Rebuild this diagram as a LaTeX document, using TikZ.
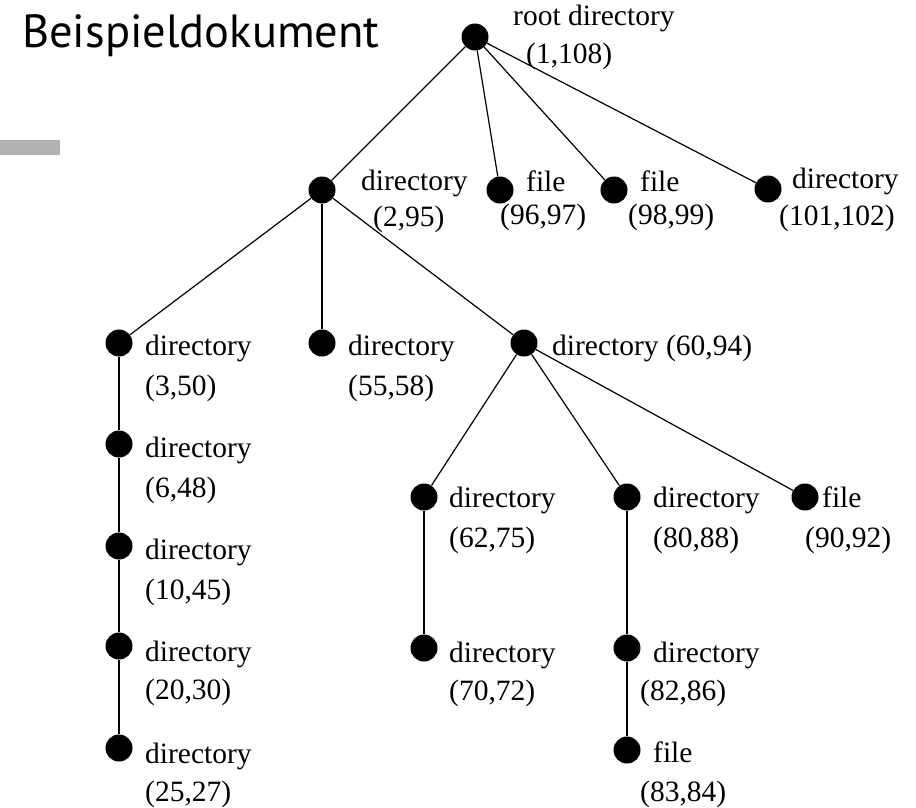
\documentclass[tikz,border=0pt]{standalone}
\usepackage{fontspec}
\setmainfont{Liberation Serif}
\newfontfamily\titlefont{PT Sans}
\newcommand\lblfont{\fontsize{29.5}{35}\selectfont}
\begin{document}
\begin{tikzpicture}[x=1pt,y=-1pt]
\tikzset{
  dot/.style={circle, fill=black, inner sep=0pt, minimum size=27pt},
  lbl/.style={anchor=base west, inner sep=0pt, font=\lblfont},
  edge/.style={line width=1.2pt, draw=black}
}
\useasboundingbox (0,0) rectangle (916,807);

% heading and side marker
\node[anchor=base west, inner sep=0pt, font=\titlefont\fontsize{46.5}{52}\selectfont] (title) at (22,47) {Beispieldokument};
\fill[gray!60] (0,140) rectangle (60,155);

% tree nodes
\node[dot] (root) at (475,37) {};
\node[dot] (d2)   at (322,190) {};
\node[dot] (f96)  at (500,190) {};
\node[dot] (f98)  at (614,190) {};
\node[dot] (d101) at (768,189) {};
\node[dot] (d3)   at (119,343) {};
\node[dot] (d55)  at (322,343) {};
\node[dot] (d60)  at (524,343) {};
\node[dot] (d6)   at (119,444) {};
\node[dot] (d10)  at (119,546) {};
\node[dot] (d20)  at (119,646) {};
\node[dot] (d25)  at (119,748) {};
\node[dot] (d62)  at (424,497) {};
\node[dot] (d80)  at (627,497) {};
\node[dot] (f90)  at (805,497) {};
\node[dot] (d70)  at (424,648) {};
\node[dot] (d82)  at (627,648) {};
\node[dot] (f83)  at (627,750) {};

% connectors
\draw[edge] (root) -- (d2);
\draw[edge] (root) -- (f96);
\draw[edge] (root) -- (f98);
\draw[edge] (root) -- (d101);
\draw[edge] (d2) -- (d3);
\draw[edge] (d2) -- (d55);
\draw[edge] (d2) -- (d60);
\draw[edge] (d3) -- (d6);
\draw[edge] (d6) -- (d10);
\draw[edge] (d10) -- (d20);
\draw[edge] (d20) -- (d25);
\draw[edge] (d60) -- (d62);
\draw[edge] (d60) -- (d80);
\draw[edge] (d60) -- (f90);
\draw[edge] (d62) -- (d70);
\draw[edge] (d80) -- (d82);
\draw[edge] (d82) -- (f83);

% labels
\node[lbl] (root-a) at (513,25) {root directory};
\node[lbl] (root-b) at (526,63) {(1,108)};
\node[lbl] (d2-a) at (361,190) {directory};
\node[lbl] (d2-b) at (373,226) {(2,95)};
\node[lbl] (f96-a) at (526,191) {file};
\node[lbl] (f96-b) at (500,224) {(96,97)};
\node[lbl] (f98-a) at (640,191) {file};
\node[lbl] (f98-b) at (628,224) {(98,99)};
\node[lbl] (d101-a) at (792,188) {directory};
\node[lbl] (d101-b) at (779,225) {(101,102)};
\node[lbl] (d3-a) at (145,355) {directory};
\node[lbl] (d3-b) at (145,395) {(3,50)};
\node[lbl] (d55-a) at (348,355) {directory};
\node[lbl] (d55-b) at (348,395) {(55,58)};
\node[lbl] (d60-a) at (552,355) {directory (60,94)};
\node[lbl] (d6-a) at (145,457) {directory};
\node[lbl] (d6-b) at (145,497) {(6,48)};
\node[lbl] (d10-a) at (145,559) {directory};
\node[lbl] (d10-b) at (145,599) {(10,45)};
\node[lbl] (d20-a) at (145,661) {directory};
\node[lbl] (d20-b) at (145,699) {(20,30)};
\node[lbl] (d25-a) at (145,763) {directory};
\node[lbl] (d25-b) at (145,801) {(25,27)};
\node[lbl] (d62-a) at (449,507) {directory};
\node[lbl] (d62-b) at (449,547) {(62,75)};
\node[lbl] (d80-a) at (653,507) {directory};
\node[lbl] (d80-b) at (653,547) {(80,88)};
\node[lbl] (f90-a) at (822,507) {file};
\node[lbl] (f90-b) at (805,547) {(90,92)};
\node[lbl] (d70-a) at (449,662) {directory};
\node[lbl] (d70-b) at (449,700) {(70,72)};
\node[lbl] (d82-a) at (653,662) {directory};
\node[lbl] (d82-b) at (640,700) {(82,86)};
\node[lbl] (f83-a) at (653,762) {file};
\node[lbl] (f83-b) at (640,801) {(83,84)};
\end{tikzpicture}
\end{document}
